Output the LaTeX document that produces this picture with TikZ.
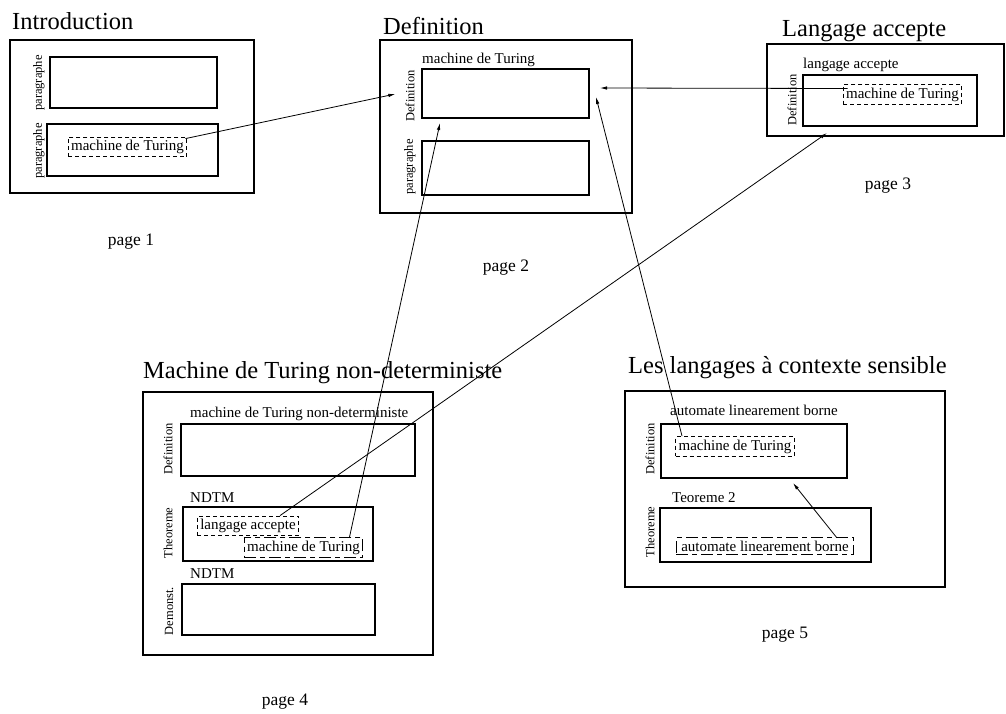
\documentclass[tikz,border=0pt]{standalone}
\usepackage{fontspec}
\setmainfont{Liberation Serif}
\usetikzlibrary{calc,arrows.meta}
\tikzset{
  box/.style={draw,line width=1.3pt},
  ttl/.style={anchor=base west,inner sep=0,font=\fontsize{24.5}{28}\selectfont},
  lbl/.style={anchor=base west,inner sep=0,font=\fontsize{15}{18}\selectfont},
  pg/.style={anchor=base,inner sep=0,font=\fontsize{17.5}{20}\selectfont},
  side/.style={rotate=90,inner sep=0,font=\fontsize{12.5}{14}\selectfont},
  ref/.style={draw,dash pattern=on 4pt off 3pt,line width=1.2pt,inner xsep=3pt,inner ysep=3pt,font=\fontsize{15}{18}\selectfont},
  refdd/.style={draw,dash pattern=on 12pt off 4pt on 5pt off 4pt,line width=1.2pt,inner xsep=3pt,inner ysep=3pt,font=\fontsize{15}{18}\selectfont},
  link/.style={line width=0.8pt,-{Latex[length=7pt,width=3.5pt]}}
}
\begin{document}
\begin{tikzpicture}[x=1pt,y=-1pt]
\useasboundingbox (0,0) rectangle (1006,713);
% ---------- page 1 ----------
\node[ttl] (t1) at (12,29) {Introduction};
\draw[box] (10,40) rectangle (254,193);
\draw[box] (50,57) rectangle (217,108);
\draw[box] (47,124) rectangle (218,176);
\node[side] (s11) at (39,83) {paragraphe};
\node[side] (s12) at (39,151) {paragraphe};
\node[ref] (p1tm) at (127.5,147) {machine de Turing};
\node[pg] (pg1) at (131,245) {page 1};
% ---------- page 2 ----------
\node[ttl] (t2) at (383,34) {Definition};
\draw[box] (380,40) rectangle (632,213);
\node[lbl] (l2) at (422,63) {machine de Turing};
\draw[box] (422,69) rectangle (589,118);
\draw[box] (422,141) rectangle (589,195);
\node[side] (s21) at (410,96) {Definition};
\node[side] (s22) at (410,167) {paragraphe};
\node[pg] (pg2) at (506,271) {page 2};
% ---------- page 3 ----------
\node[ttl] (t3) at (782,36) {Langage accepte};
\draw[box] (767,44) rectangle (1004,136);
\node[lbl] (l3) at (803,68) {langage accepte};
\draw[box] (803,75) rectangle (977,126);
\node[side] (s31) at (792,100) {Definition};
\node[ref] (p3tm) at (902.5,94.5) {machine de Turing};
\node[pg] (pg3) at (888,189) {page 3};
% ---------- page 4 ----------
\node[ttl] (t4) at (143,378) {Machine de Turing non-deterministe};
\draw[box] (143,392) rectangle (433,655);
\node[lbl] (l41) at (190,417) {machine de Turing non-deterministe};
\draw[box] (181,424) rectangle (415,476);
\node[lbl] (l42) at (190,502) {NDTM};
\draw[box] (183,507) rectangle (373,561);
\node[lbl] (l43) at (190,578) {NDTM};
\draw[box] (182,584) rectangle (375,635);
\node[side] (s41) at (168,449) {Definition};
\node[side] (s42) at (168,533) {Theoreme};
\node[side] (s43) at (169,611) {Demonst.};
\node[ref] (p4la) at (248,526) {langage accepte};
\node[refdd] (p4tm) at (303.5,547.5) {machine de Turing};
\node[pg] (pg4) at (285,705) {page 4};
% ---------- page 5 ----------
\node[ttl] (t5) at (628,373) {Les langages à contexte sensible};
\draw[box] (625,391) rectangle (945,587);
\node[lbl] (l51) at (670,415) {automate linearement borne};
\draw[box] (661,424) rectangle (847,478);
\node[lbl] (l52) at (672,502) {Teoreme 2};
\draw[box] (660,508) rectangle (871,562);
\node[side] (s51) at (650,449) {Definition};
\node[side] (s52) at (650,532) {Theoreme};
\node[ref] (p5tm) at (735,446.5) {machine de Turing};
\node[refdd,inner xsep=5pt] (p5alb) at (765,546) {automate linearement borne};
\node[pg] (pg5) at (785,638) {page 5};
% ---------- connector ends ----------
\coordinate (a1s) at ($(p1tm.north east)+(-2,2)$);
\coordinate (a1e) at ($(s21.north)+(-10,-2)$);
\coordinate (a2s) at ($(p3tm.west)+(5,-6)$);
\coordinate (a2e) at (600,88);
\coordinate (a3s) at ($(p4la.north)+(32,0)$);
\coordinate (a3e) at (827,133);
\coordinate (a4s) at ($(p4tm.north)+(46,0)$);
\coordinate (a4e) at (440,123);
\coordinate (a5s) at ($(p5tm.north west)+(7,0)$);
\coordinate (a5e) at (596,97);
\coordinate (a6s) at ($(p5alb.north east)+(-18,0)$);
\coordinate (a6e) at (793,483);
% ---------- connectors ----------
\draw[link] (a1s) -- (a1e);
\draw[link] (a2s) -- (a2e);
\draw[link] (a3s) -- (a3e);
\draw[link] (a4s) -- (a4e);
\draw[link] (a5s) -- (a5e);
\draw[link] (a6s) -- (a6e);
\end{tikzpicture}
\end{document}
